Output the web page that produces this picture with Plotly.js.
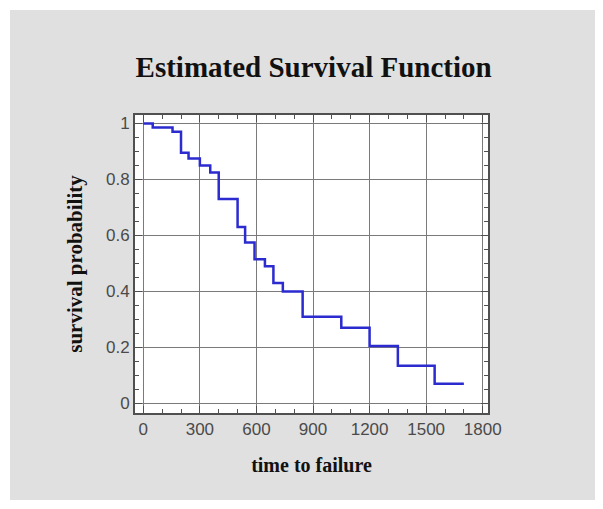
<!DOCTYPE html>
<html>
<head>
<meta charset="utf-8">
<script src="https://cdn.plot.ly/plotly-3.0.1.min.js"></script>
<style>
  html, body { margin: 0; padding: 0; background: #ffffff; width: 603px; height: 509px; overflow: hidden; }
  #chart { position: absolute; left: 10px; top: 10px; width: 585px; height: 490px; }
</style>
</head>
<body>
<div id="chart"></div>
<script>
// Kaplan-Meier step estimates
const failureTimes = [0, 50, 155, 200, 240, 300, 355, 400, 500, 540, 590, 645, 690, 740, 845, 1050, 1200, 1350, 1545, 1700];
const survivalProb = [1, 0.985, 0.97, 0.895, 0.875, 0.85, 0.825, 0.73, 0.63, 0.575, 0.515, 0.49, 0.43, 0.40, 0.31, 0.27, 0.205, 0.135, 0.07, 0.07];
const xTickVals = [0, 300, 600, 900, 1200, 1500, 1800];
const yTickVals = [0, 0.2, 0.4, 0.6, 0.8, 1];

const trace = {
  x: failureTimes,
  y: survivalProb,
  type: 'scatter',
  mode: 'lines',
  line: { shape: 'hv', color: '#2b2bd0', width: 2.5 },
  hoverinfo: 'x+y'
};

const axisCommon = {
  showgrid: true,
  gridcolor: '#7a7a7a',
  gridwidth: 1,
  zeroline: true,
  zerolinecolor: '#7a7a7a',
  zerolinewidth: 1,
  showline: true,
  linecolor: '#505050',
  linewidth: 2,
  mirror: 'allticks',
  ticks: 'inside',
  ticklen: 7,
  tickcolor: '#505050',
  tickfont: { family: 'Liberation Sans, Arial, sans-serif', size: 17, color: '#4a4a4a' },
  fixedrange: true
};

const layout = {
  width: 585,
  height: 490,
  paper_bgcolor: '#e0e0e0',
  plot_bgcolor: '#ffffff',
  margin: { l: 125, r: 107, t: 105, b: 87 },
  showlegend: false,
  title: {
    text: '<b>Estimated Survival Function</b>',
    font: { family: 'Liberation Serif, Times New Roman, serif', size: 29, color: '#111111' },
    xref: 'container', yref: 'container',
    x: 0.519, xanchor: 'center',
    y: 0.884, yanchor: 'middle'
  },
  xaxis: Object.assign({}, axisCommon, {
    range: [-44, 1828],
    tickvals: xTickVals,
    minor: { dtick: 100, tick0: 0, ticks: 'inside', ticklen: 4, tickcolor: '#505050', showgrid: false },
    title: {
      text: '<b>time to failure</b>',
      font: { family: 'Liberation Serif, Times New Roman, serif', size: 20, color: '#111111' },
      standoff: 20
    }
  }),
  yaxis: Object.assign({}, axisCommon, {
    range: [-0.034, 1.03],
    tickvals: yTickVals,
    minor: { dtick: 0.05, tick0: 0, ticks: 'inside', ticklen: 4, tickcolor: '#505050', showgrid: false },
    title: {
      text: '<b>survival probability</b>',
      font: { family: 'Liberation Serif, Times New Roman, serif', size: 21, color: '#111111' },
      standoff: 18
    }
  })
};

Plotly.newPlot('chart', [trace], layout, { displayModeBar: false, staticPlot: true });
</script>
</body>
</html>
